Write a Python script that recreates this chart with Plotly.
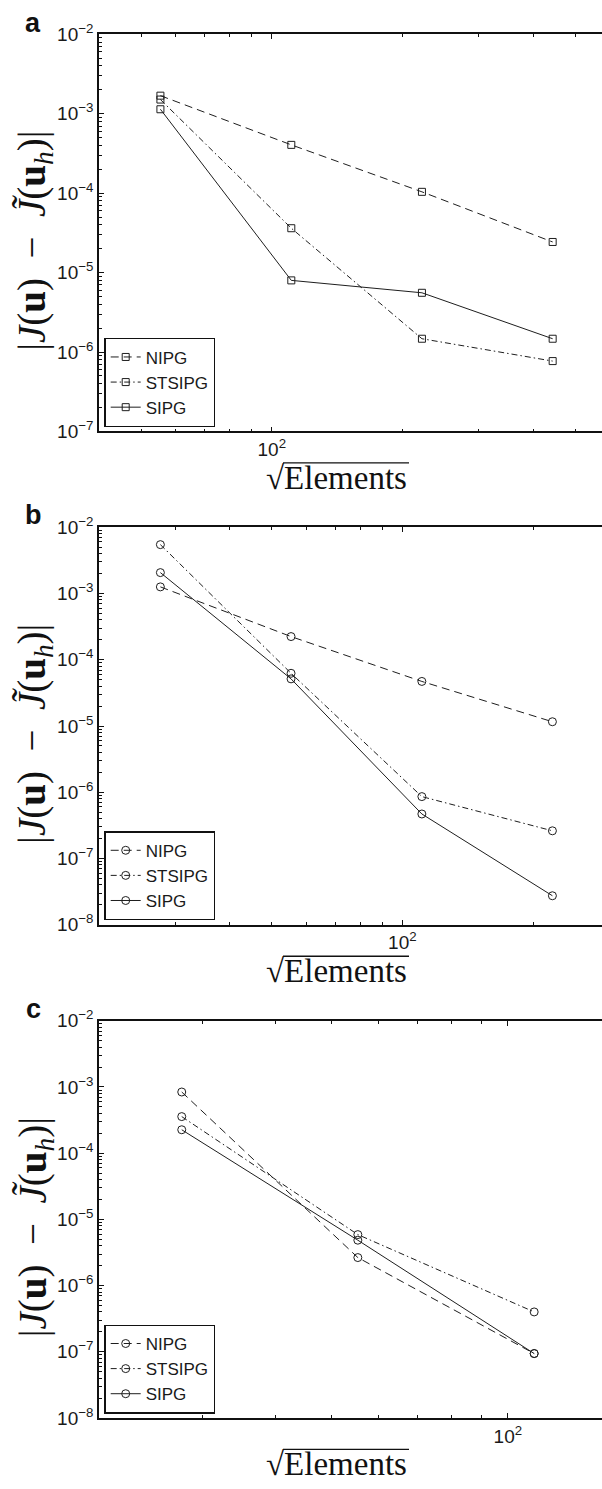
import numpy as np
import plotly.graph_objects as go

W, H = 602, 1489

# ---------------- data ----------------
series_names = ["NIPG", "STSIPG", "SIPG"]

x_a = [55.4, 110.9, 221.7, 443.4]
nipg_a = [1.69e-3, 4.06e-4, 1.04e-4, 2.43e-5]
stsipg_a = [1.51e-3, 3.62e-5, 1.47e-6, 7.69e-7]
sipg_a = [1.14e-3, 7.98e-6, 5.57e-6, 1.47e-6]

x_b = [27.7, 55.4, 110.9, 221.7]
nipg_b = [1.26e-3, 2.24e-4, 4.71e-5, 1.16e-5]
stsipg_b = [5.47e-3, 6.25e-5, 8.6e-7, 2.62e-7]
sipg_b = [2.07e-3, 5.15e-5, 4.7e-7, 2.74e-8]

x_c = [27.7, 55.4, 110.9]
nipg_c = [8.4e-4, 2.65e-6, 9.4e-8]
stsipg_c = [3.57e-4, 5.89e-6, 4.0e-7]
sipg_c = [2.26e-4, 4.85e-6, 9.4e-8]

panel_labels = ["a", "b", "c"]
x_tick_vals = [100]
x_tick_text = ["10<sup>2</sup>"]

# ---------------- layout geometry (pixels) ----------------
plot_left = 99
panels = [
    dict(top=21.7, bottom=425.3, xr=[np.log10(40), 2.7604], yr=[-7, -2], sym="square-open", msize=7,
         xs=x_a, ys=[nipg_a, stsipg_a, sipg_a]),
    dict(top=522.7, bottom=926.7, xr=[np.log10(20), 2.4600], yr=[-8, -2], sym="circle-open", msize=8,
         xs=x_b, ys=[nipg_b, stsipg_b, sipg_b]),
    dict(top=1024.3, bottom=1428.0, xr=[np.log10(20), 2.1609], yr=[-8, -2], sym="circle-open", msize=8,
         xs=x_c, ys=[nipg_c, stsipg_c, sipg_c]),
]

dashes = ["8px,5px", "6px,3px,1.5px,3px", "solid"]
line_col = "#1e1e1e"

def py(pix):
    return 1 - pix / H

def px(pix):
    return pix / W

fig = go.Figure()
layout = dict(width=W, height=H, margin=dict(l=0, r=0, t=0, b=0), autosize=False,
              paper_bgcolor="white", plot_bgcolor="white", showlegend=True)
annotations = []
shapes = []

for i, p in enumerate(panels):
    sfx = "" if i == 0 else str(i + 1)
    xa = "x" + sfx
    ya = "y" + sfx
    leg = "legend" + sfx
    for k, name in enumerate(series_names):
        fig.add_trace(go.Scatter(
            x=p["xs"], y=p["ys"][k], name=name, mode="lines+markers",
            xaxis=xa, yaxis=ya, legend=leg,
            line=dict(color=line_col, width=1, dash=dashes[k]),
            marker=dict(symbol=p["sym"], size=p["msize"], color=line_col,
                        line=dict(color=line_col, width=1)),
        ))
    lo, hi = p["xr"]
    xminor = [m * 10 ** e for e in range(1, 4) for m in range(2, 10)
              if lo <= np.log10(m * 10 ** e) <= hi]
    ylo, yhi = p["yr"]
    ymajor = [10.0 ** e for e in range(ylo, yhi + 1)]
    ytext = ["10<sup>\u2212%d</sup>" % (-e) for e in range(ylo, yhi + 1)]
    yminor = [m * 10.0 ** e for e in range(ylo, yhi) for m in range(2, 10)]

    layout["xaxis" + sfx] = dict(
        type="log", range=p["xr"], domain=[px(plot_left), 1.0], anchor=ya,
        showline=True, linecolor="#111", linewidth=1.6, mirror="ticks",
        ticks="inside", ticklen=5, tickwidth=1, tickcolor="#111",
        tickmode="array", tickvals=x_tick_vals, ticktext=x_tick_text,
        minor=dict(tickmode="array", tickvals=xminor, ticks="inside", ticklen=3,
                   tickwidth=1, tickcolor="#111", showgrid=False),
        showgrid=False, zeroline=False,
        tickfont=dict(family="Liberation Sans", size=19, color="#1a1a1a"),
    )
    layout["yaxis" + sfx] = dict(
        type="log", range=p["yr"], domain=[py(p["bottom"]), py(p["top"])], anchor=xa,
        showline=True, linecolor="#111", linewidth=1.6, mirror=False,
        ticks="inside", ticklen=5, tickwidth=1, tickcolor="#111",
        tickmode="array", tickvals=ymajor, ticktext=ytext,
        minor=dict(tickmode="array", tickvals=yminor, ticks="inside", ticklen=3,
                   tickwidth=1, tickcolor="#111", showgrid=False),
        showgrid=False, zeroline=False,
        tickfont=dict(family="Liberation Sans", size=19, color="#1a1a1a"),
    )
    layout[leg] = dict(
        x=px(104.3), y=py(p["bottom"] - 4.5), xanchor="left", yanchor="bottom",
        bgcolor="white", bordercolor="#111", borderwidth=1.4,
        font=dict(family="Liberation Sans", size=17, color="#1a1a1a"),
        tracegroupgap=0, itemwidth=30,
    )
    annotations.append(dict(
        text="<b>%s</b>" % panel_labels[i], x=px(33), y=py(p["top"] - 12),
        xref="paper", yref="paper", xanchor="center", yanchor="middle", showarrow=False,
        font=dict(family="Liberation Sans", size=27, color="#111")))
    mid = (p["top"] + p["bottom"]) / 2 + 8
    annotations.append(dict(
        text="|<i>J</i>(<b>u</b>)  \u2212  <i>J\u0303</i>(<b>u</b><sub><i>h</i></sub>)|",
        x=px(35), y=py(mid), xref="paper", yref="paper", textangle=-90,
        xanchor="center", yanchor="middle", showarrow=False,
        font=dict(family="Liberation Serif", size=39, color="#111")))
    annotations.append(dict(
        text="\u221aElements", x=px(336), y=py(p["bottom"] + 47),
        xref="paper", yref="paper", xanchor="center", yanchor="middle", showarrow=False,
        font=dict(family="Liberation Serif", size=33, color="#111")))
    shapes.append(dict(type="line", xref="paper", yref="paper",
                       x0=px(283), x1=px(409), y0=py(p["bottom"] + 32), y1=py(p["bottom"] + 32),
                       line=dict(color="#111", width=1.3)))

layout["annotations"] = annotations
layout["shapes"] = shapes
fig.update_layout(**layout)
fig.write_html("out.html")
